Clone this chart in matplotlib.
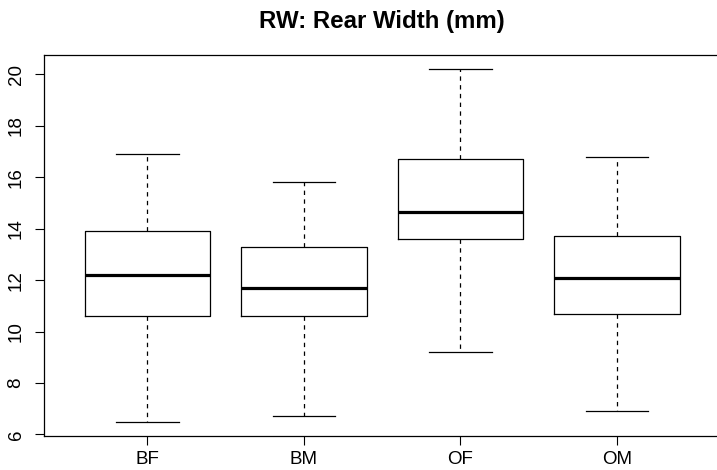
import matplotlib
matplotlib.use("Agg")
import matplotlib.pyplot as plt

categories = ["BF", "BM", "OF", "OM"]
whislo = [6.5, 6.7, 9.2, 6.9]
q1 = [10.6, 10.6, 13.6, 10.7]
med = [12.2, 11.7, 14.65, 12.1]
q3 = [13.9, 13.3, 16.7, 13.7]
whishi = [16.9, 15.8, 20.2, 16.8]
yticks = [6, 8, 10, 12, 14, 16, 18, 20]

plt.rcParams['font.family'] = ['Liberation Sans', 'DejaVu Sans']

W, H = 717, 470
fig = plt.figure(figsize=(W / 100, H / 100), dpi=100)
left, right, top, bottom = 44, 720.4, 55, 435.7
ax = fig.add_axes([left / W, 1 - bottom / H, (right - left) / W, (bottom - top) / H])

stats = []
for i, c in enumerate(categories):
    stats.append(dict(label=c, whislo=whislo[i], q1=q1[i], med=med[i],
                      q3=q3[i], whishi=whishi[i], fliers=[]))

ax.bxp(stats, positions=[1, 2, 3, 4], widths=0.8, showfliers=False,
       boxprops=dict(color='black', linewidth=0.9),
       medianprops=dict(color='black', linewidth=2.3, solid_capstyle='butt'),
       whiskerprops=dict(color='black', linewidth=0.9, linestyle=(0, (3.5, 3.5))),
       capprops=dict(color='black', linewidth=0.9),
       capwidths=0.4)

lo = min(whislo); hi = max(whishi)
rng = hi - lo
ax.set_ylim(lo - 0.04 * rng, hi + 0.04 * rng)
ax.set_xlim(0.34, 4.66)
ax.set_yticks(yticks)
ax.set_yticklabels([str(v) for v in yticks], rotation=90, va='center')
ax.set_xticks([1, 2, 3, 4])
ax.set_xticklabels(categories)
ax.tick_params(axis='both', length=6.5, width=0.8, labelsize=13.5, color='black')
ax.tick_params(axis='x', pad=4.5)
ax.tick_params(axis='y', pad=7.5)
for s in ax.spines.values():
    s.set_linewidth(0.9)
    s.set_color('black')

fig.text(382 / W, 1 - 28.3 / H, "RW: Rear Width (mm)", ha='center', va='baseline',
         fontsize=17.3, fontweight='bold')

fig.savefig("out.png", dpi=100)
